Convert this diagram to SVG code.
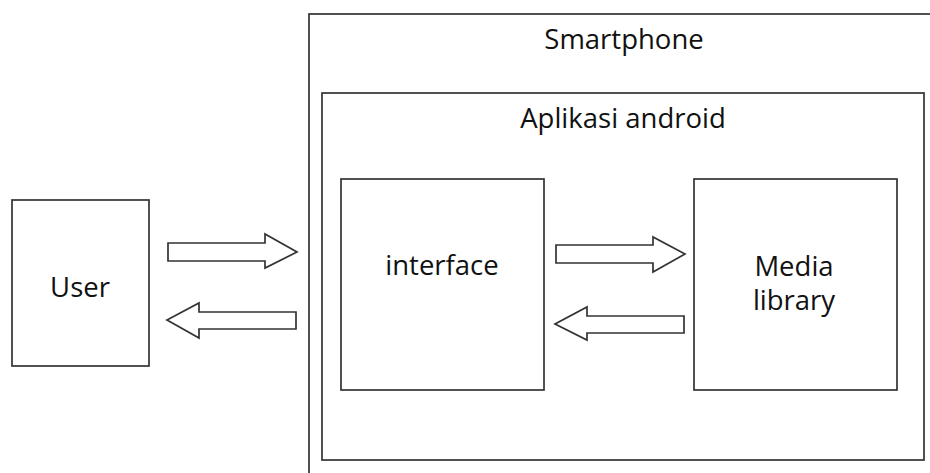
<svg xmlns="http://www.w3.org/2000/svg" width="930" height="473" viewBox="0 0 930 473">
<style>
.box{fill:#fff;stroke:#333;stroke-width:1.7}
.arrow{fill:#fff;stroke:#333;stroke-width:1.7;stroke-linejoin:miter}
.t{font-family:"Open Sans","Noto Sans",sans-serif;font-size:27.5px;fill:#111;text-anchor:middle}
</style>
<rect width="930" height="473" fill="#fff"/>
<g id="smartphone">
<rect class="box" x="309" y="14" width="640" height="480"/>
<text class="t" x="624" y="49">Smartphone</text>
</g>
<g id="aplikasi-android">
<rect class="box" x="322" y="93" width="602" height="367"/>
<text class="t" x="623" y="128">Aplikasi android</text>
</g>
<g id="user">
<rect class="box" x="12" y="200" width="137" height="166"/>
<text class="t" x="80" y="297">User</text>
</g>
<g id="interface">
<rect class="box" x="341" y="179" width="203" height="211"/>
<text class="t" x="442" y="275">interface</text>
</g>
<g id="media-library">
<rect class="box" x="694" y="179" width="203" height="211"/>
<text class="t" x="794" y="276">Media</text>
<text class="t" x="794" y="310">library</text>
</g>
<g id="connectors">
<polygon class="arrow" points="168,243 265,243 265,234 297,252 265,268 265,261 168,261"/>
<polygon class="arrow" points="296,312 199,312 199,303 167,320 199,338 199,329 296,329"/>
<polygon class="arrow" points="556,245 653,245 653,237 685,254 653,272 653,263 556,263"/>
<polygon class="arrow" points="684,316 587,316 587,307 555,324 587,340 587,333 684,333"/>
</g>
</svg>
